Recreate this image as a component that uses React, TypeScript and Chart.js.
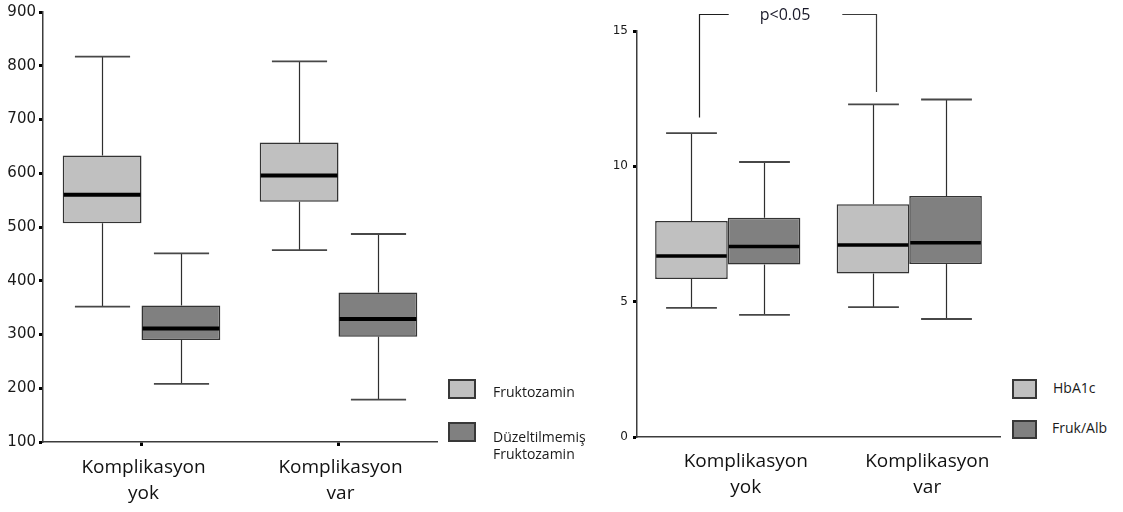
import React, { useEffect, useRef } from "react";
import { Chart, registerables } from "chart.js";

Chart.register(...registerables);

// ---------- data ----------
const categories = [
  ["Komplikasyon", "yok"],
  ["Komplikasyon", "var"],
];

// Left chart: Fruktozamin / Düzeltilmemiş Fruktozamin
const leftSeriesNames = ["Fruktozamin", "Düzeltilmemiş\nFruktozamin"];
const fruktozaminMin = [352, 457];
const fruktozaminQ1 = [507, 547];
const fruktozaminMedian = [560, 596];
const fruktozaminQ3 = [633, 657];
const fruktozaminMax = [817, 808];

const duzeltilmemisMin = [208, 179];
const duzeltilmemisQ1 = [290, 296];
const duzeltilmemisMedian = [311, 329];
const duzeltilmemisQ3 = [354, 378];
const duzeltilmemisMax = [451, 487];

const leftAxisMin = 100;
const leftAxisMax = 900;
const leftAxisStep = 100;

// Right chart: HbA1c / Fruk/Alb
const rightSeriesNames = ["HbA1c", "Fruk/Alb"];
const hba1cMin = [4.77, 4.8];
const hba1cQ1 = [5.84, 6.04];
const hba1cMedian = [6.69, 7.09];
const hba1cQ3 = [7.98, 8.6];
const hba1cMax = [11.23, 12.29];

const frukAlbMin = [4.51, 4.36];
const frukAlbQ1 = [6.37, 6.39];
const frukAlbMedian = [7.04, 7.18];
const frukAlbQ3 = [8.1, 8.9];
const frukAlbMax = [10.16, 12.47];

const rightAxisMin = 0;
const rightAxisMax = 15;
const rightAxisStep = 5;

// significance bracket (value units of the right chart)
const bracketText = "p<0.05";
const bracketTop = 15.62;
const bracketLeftBottom = 11.8;
const bracketRightBottom = 12.75;

const LIGHT = "#c0c0c0";
const DARK = "#808080";

type Stats = { min: number[]; q1: number[]; median: number[]; q3: number[]; max: number[] };

const leftStats: Stats[] = [
  { min: fruktozaminMin, q1: fruktozaminQ1, median: fruktozaminMedian, q3: fruktozaminQ3, max: fruktozaminMax },
  { min: duzeltilmemisMin, q1: duzeltilmemisQ1, median: duzeltilmemisMedian, q3: duzeltilmemisQ3, max: duzeltilmemisMax },
];
const rightStats: Stats[] = [
  { min: hba1cMin, q1: hba1cQ1, median: hba1cMedian, q3: hba1cQ3, max: hba1cMax },
  { min: frukAlbMin, q1: frukAlbQ1, median: frukAlbMedian, q3: frukAlbQ3, max: frukAlbMax },
];

function line(ctx: CanvasRenderingContext2D, x1: number, y1: number, x2: number, y2: number) {
  ctx.beginPath();
  ctx.moveTo(x1, y1);
  ctx.lineTo(x2, y2);
  ctx.stroke();
}

function boxPlugin(stats: Stats[], medianWidth: number) {
  return {
    id: "boxWhiskers",
    afterDatasetsDraw(chart: any) {
      const ctx: CanvasRenderingContext2D = chart.ctx;
      const ys = chart.scales.y;
      stats.forEach((s, i) => {
        const meta = chart.getDatasetMeta(i);
        meta.data.forEach((bar: any, j: number) => {
          const x = Math.round(bar.x) + 0.5;
          const w = bar.width;
          const yMin = ys.getPixelForValue(s.min[j]);
          const yQ1 = ys.getPixelForValue(s.q1[j]);
          const yMed = ys.getPixelForValue(s.median[j]);
          const yQ3 = ys.getPixelForValue(s.q3[j]);
          const yMax = ys.getPixelForValue(s.max[j]);
          ctx.save();
          ctx.strokeStyle = "#2e2e2e";
          ctx.lineWidth = 1.2;
          line(ctx, x, yQ3, x, yMax);
          line(ctx, x, yQ1, x, yMin);
          ctx.strokeStyle = "#474747";
          ctx.lineWidth = 1.8;
          const cap = w * 0.35;
          line(ctx, x - cap, yMax, x + cap, yMax);
          line(ctx, x - cap, yMin, x + cap, yMin);
          ctx.strokeStyle = "#000";
          ctx.lineWidth = medianWidth;
          line(ctx, bar.x - w / 2 + 1, yMed, bar.x + w / 2 - 1, yMed);
          ctx.restore();
        });
      });
    },
  };
}

const bracketPlugin = {
  id: "bracket",
  afterDraw(chart: any) {
    const ctx: CanvasRenderingContext2D = chart.ctx;
    const xs = chart.scales.x;
    const ys = chart.scales.y;
    const band = xs.getPixelForValue(1) - xs.getPixelForValue(0);
    const xl = Math.round(xs.getPixelForValue(0) - band * 0.158) + 0.5;
    const xr = Math.round(xs.getPixelForValue(1) - band * 0.183) + 0.5;
    const yt = Math.round(ys.getPixelForValue(bracketTop)) + 0.5;
    const ylb = ys.getPixelForValue(bracketLeftBottom);
    const yrb = ys.getPixelForValue(bracketRightBottom);
    const mid = (xl + xr) / 2 - 3;
    ctx.save();
    ctx.font = "16px 'Open Sans'";
    const tw = ctx.measureText(bracketText).width;
    ctx.strokeStyle = "#1e1e1e";
    ctx.lineWidth = 1.2;
    ctx.beginPath();
    ctx.moveTo(xl, ylb);
    ctx.lineTo(xl, yt);
    ctx.lineTo(mid - tw / 2 - 31, yt);
    ctx.stroke();
    ctx.strokeStyle = "#3a3a3a";
    ctx.beginPath();
    ctx.moveTo(mid + tw / 2 + 32, yt);
    ctx.lineTo(xr, yt);
    ctx.lineTo(xr, yrb);
    ctx.stroke();
    ctx.fillStyle = "#1a1a2a";
    ctx.textAlign = "center";
    ctx.textBaseline = "middle";
    ctx.fillText(bracketText, mid, yt + 1);
    ctx.restore();
  },
};

function makeConfig(opts: {
  stats: Stats[];
  min: number;
  max: number;
  step: number;
  yWidth: number;
  xHeight: number;
  padding: any;
  yFontSize: number;
  yPad: number;
  xTicks: boolean;
  xPad: number;
  labelOffset: number;
  medianWidth: number;
  extraPlugins: any[];
}) {
  const colors = [LIGHT, DARK];
  return {
    type: "bar",
    data: {
      labels: categories,
      datasets: opts.stats.map((s, i) => ({
        data: s.q1.map((q, j) => [q, s.q3[j]]),
        backgroundColor: colors[i],
        borderColor: "#333",
        borderWidth: 1.5,
        borderSkipped: false,
        categoryPercentage: 0.8,
        barPercentage: 1.0,
      })),
    },
    options: {
      responsive: false,
      animation: false,
      events: [],
      layout: { padding: opts.padding },
      plugins: { legend: { display: false }, tooltip: { enabled: false } },
      scales: {
        x: {
          type: "category",
          offset: true,
          afterFit: (scale: any) => {
            scale.height = opts.xHeight;
          },
          grid: {
            display: opts.xTicks,
            offset: false,
            drawOnChartArea: false,
            drawTicks: opts.xTicks,
            tickLength: 4,
            tickWidth: 3,
            tickColor: "#000",
          },
          border: { display: true, color: "#3c3c3c", width: 1.5 },
          ticks: {
            color: "#111",
            padding: opts.xPad,
            labelOffset: opts.labelOffset,
            maxRotation: 0,
            font: { family: "'Open Sans'", size: 19, lineHeight: 1.4 },
          },
        },
        y: {
          min: opts.min,
          max: opts.max,
          afterFit: (scale: any) => {
            scale.width = opts.yWidth;
          },
          grid: {
            display: true,
            drawOnChartArea: false,
            drawTicks: true,
            tickLength: 4,
            tickWidth: 3,
            tickColor: "#000",
          },
          border: { display: true, color: "#3c3c3c", width: 1.5 },
          ticks: {
            stepSize: opts.step,
            color: "#1a1a1a",
            padding: opts.yPad,
            font: { family: "'DejaVu Sans'", size: opts.yFontSize },
          },
        },
      },
    },
    plugins: [boxPlugin(opts.stats, opts.medianWidth), ...opts.extraPlugins],
  };
}

function ChartCanvas({ config, left, width }: { config: any; left: number; width: number }) {
  const ref = useRef<HTMLCanvasElement>(null);
  useEffect(() => {
    if (!ref.current) return;
    const chart = new Chart(ref.current, config);
    return () => chart.destroy();
  }, [config]);
  return (
    <canvas
      ref={ref}
      width={width}
      height={512}
      style={{ position: "absolute", left, top: 0, width, height: 512 }}
    />
  );
}

const legendText: React.CSSProperties = {
  position: "absolute",
  fontFamily: "'Open Sans'",
  fontSize: 14,
  lineHeight: "17px",
  color: "#1a1a1a",
  whiteSpace: "pre-line",
};

function Swatch({ left, top, w, h, color }: any) {
  return (
    <div
      style={{
        position: "absolute",
        left,
        top,
        width: w,
        height: h,
        background: color,
        border: "2px solid #383838",
        boxSizing: "border-box",
      }}
    />
  );
}

const leftConfig = makeConfig({
  stats: leftStats,
  min: leftAxisMin,
  max: leftAxisMax,
  step: leftAxisStep,
  yWidth: 43,
  xHeight: 70,
  padding: { top: 12, right: 8, bottom: 0, left: 0 },
  yFontSize: 15,
  yPad: 3,
  xTicks: true,
  xPad: 8,
  labelOffset: 2,
  medianWidth: 4,
  extraPlugins: [],
});

const rightConfig = makeConfig({
  stats: rightStats,
  min: rightAxisMin,
  max: rightAxisMax,
  step: rightAxisStep,
  yWidth: 77,
  xHeight: 75,
  padding: { top: 31, right: 10, bottom: 0, left: 0 },
  yFontSize: 12,
  yPad: 5,
  xTicks: false,
  xPad: 11,
  labelOffset: 18,
  medianWidth: 3.5,
  extraPlugins: [bracketPlugin],
});

export default function App() {
  return (
    <div style={{ position: "absolute", left: 0, top: 0, width: 1123, height: 512, background: "#fff" }}>
      <ChartCanvas config={leftConfig} left={0} width={445} />
      <ChartCanvas config={rightConfig} left={560} width={450} />

      <Swatch left={448} top={379} w={28} h={20} color={LIGHT} />
      <div style={{ ...legendText, left: 493, top: 383 }}>{leftSeriesNames[0]}</div>
      <Swatch left={448} top={422} w={28} h={20} color={DARK} />
      <div style={{ ...legendText, left: 493, top: 428 }}>{leftSeriesNames[1]}</div>

      <Swatch left={1012} top={379} w={25} h={20} color={LIGHT} />
      <div style={{ ...legendText, left: 1053, top: 379, lineHeight: "18px" }}>{rightSeriesNames[0]}</div>
      <Swatch left={1012} top={420} w={25} h={19} color={DARK} />
      <div style={{ ...legendText, left: 1052, top: 419, lineHeight: "18px" }}>{rightSeriesNames[1]}</div>
    </div>
  );
}
